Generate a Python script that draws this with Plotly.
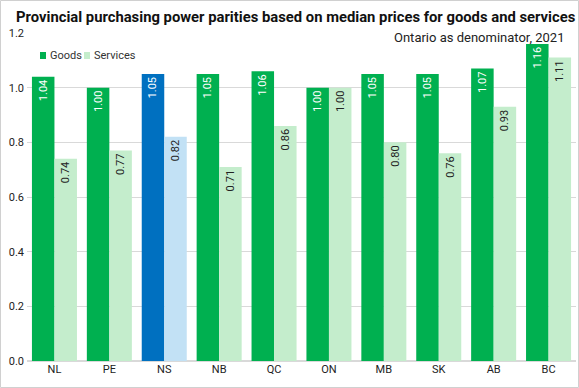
import plotly.graph_objects as go

categories = ["NL", "PE", "NS", "NB", "QC", "ON", "MB", "SK", "AB", "BC"]
goods = [1.04, 1.00, 1.05, 1.05, 1.06, 1.00, 1.05, 1.05, 1.07, 1.16]
services = [0.74, 0.77, 0.82, 0.71, 0.86, 1.00, 0.80, 0.76, 0.93, 1.11]
series_names = ["Goods", "Services"]
highlight = "NS"
y_ticks = [0.0, 0.2, 0.4, 0.6, 0.8, 1.0, 1.2]

GOODS_C, SERV_C = "#00B050", "#C4EDCC"
GOODS_H, SERV_H = "#0070C0", "#C2E1F5"

W, H = 579, 388
ML, MR, MT, MB = 27, 3, 33, 27
pw, ph = W - ML - MR, H - MT - MB

def px_x(x):
    return (x - ML) / pw

def px_y(y):
    return 1 - (y - MT) / ph

font = "Roboto"
fig = go.Figure()
fig.add_trace(go.Bar(
    x=categories, y=goods, name=series_names[0],
    marker=dict(color=[GOODS_H if c == highlight else GOODS_C for c in categories], line_width=0),
    texttemplate="%{y:.2f}", textposition="inside", textangle=-90,
    insidetextanchor="end", textfont=dict(color="white", size=11, family=font),
))
fig.add_trace(go.Bar(
    x=categories, y=services, name=series_names[1],
    marker=dict(color=[SERV_H if c == highlight else SERV_C for c in categories], line_width=0),
    texttemplate="%{y:.2f}", textposition="inside", textangle=-90,
    insidetextanchor="end", textfont=dict(color="#222222", size=11, family=font),
))

# custom compact legend (swatch + label), matching the reference layout
legend_items = [(series_names[0], GOODS_C, 40, 48), (series_names[1], SERV_C, 84, 92)]
shapes = [dict(type="rect", xref="paper", yref="paper",
               x0=-(ML - 0.5) / pw, x1=1 + (MR - 0.5) / pw,
               y0=-(MB - 0.5) / ph, y1=1 + (MT - 0.5) / ph,
               line=dict(color="#D0D0D0", width=1), layer="below")]
annotations = [
    dict(text="<b>Provincial purchasing power parities based on median prices for goods and services</b>",
         xref="paper", yref="paper", x=px_x(14), y=px_y(6),
         xanchor="left", yanchor="top", showarrow=False, font=dict(size=14.8, family=font, color="#111111")),
    dict(text="Ontario as denominator, 2021",
         xref="paper", yref="paper", x=px_x(566), y=px_y(37),
         xanchor="right", yanchor="middle", showarrow=False, font=dict(size=13, family=font, color="#222222")),
]
for name, col, sx, tx in legend_items:
    shapes.append(dict(type="rect", xref="paper", yref="paper",
                       x0=px_x(sx), x1=px_x(sx + 6), y0=px_y(59), y1=px_y(52),
                       fillcolor=col, line_width=0))
    annotations.append(dict(text=name, xref="paper", yref="paper", x=px_x(tx), y=px_y(55.5),
                            xanchor="left", yanchor="middle", showarrow=False,
                            font=dict(size=11, family=font, color="#333333")))

fig.update_layout(
    width=W, height=H,
    margin=dict(l=ML, r=MR, t=MT, b=MB),
    paper_bgcolor="white", plot_bgcolor="white",
    barmode="group", bargap=0.18, bargroupgap=0,
    font=dict(family=font, size=11, color="#222222"),
    showlegend=False,
    annotations=annotations,
    shapes=shapes,
)
fig.update_yaxes(range=[0, 1.2], tickvals=y_ticks, tickformat=".1f",
                 gridcolor="#D9D9D9", gridwidth=1, zeroline=True, zerolinecolor="#D9D9D9",
                 showline=False, ticks="", tickfont=dict(size=11), ticklabelstandoff=2)
fig.update_xaxes(showline=False, ticks="", tickfont=dict(size=11))

fig.write_html("out.html", config={"displayModeBar": False},
               post_script="document.body.style.margin='0';document.body.style.padding='0';")
